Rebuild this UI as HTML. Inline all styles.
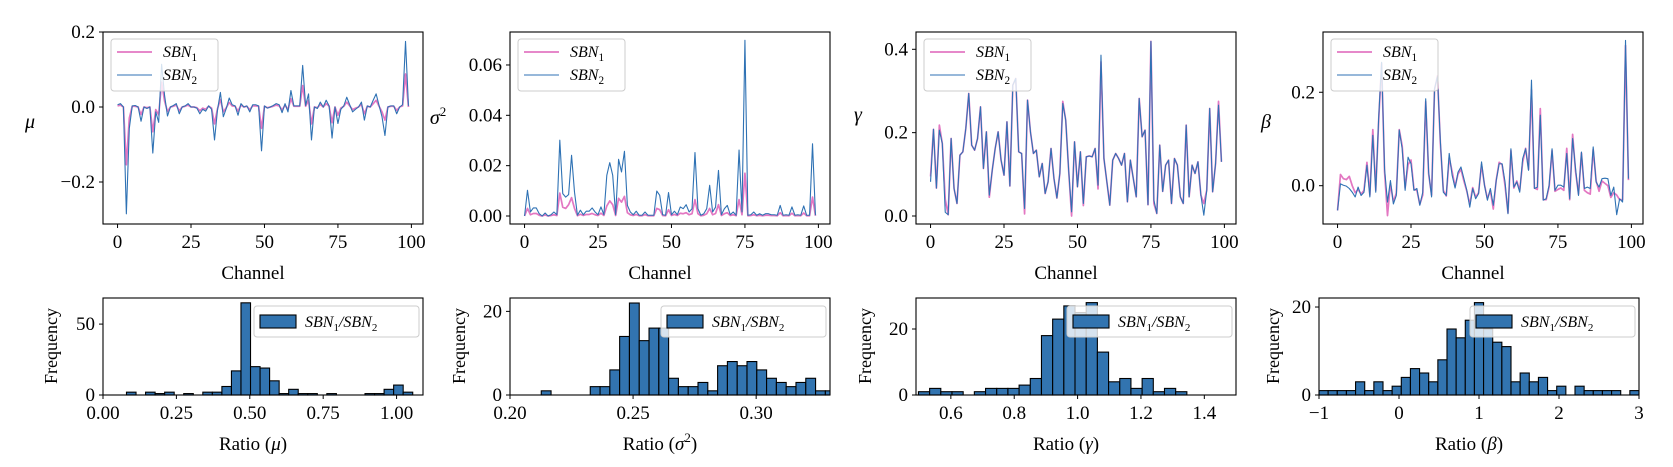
<!DOCTYPE html>
<html><head><meta charset="utf-8"><style>
html,body{margin:0;padding:0;background:#fff;}
svg{display:block;font-family:"Liberation Serif",serif;}
</style></head><body>
<svg id="fig" width="1673" height="467" viewBox="0 0 1673 467" xmlns="http://www.w3.org/2000/svg"></svg>
<script>
const channels = Array.from({length:100},(_,i)=>i);
const muSBN1 = [.003,.005,0,-.154,-.03,.002,.002,0,-.02,0,-.002,0,-.066,-.007,-.021,.066,.016,-.012,0,.002,.005,-.01,0,.002,.005,0,0,-.002,-.01,-.003,-.006,.002,-.003,-.045,-.005,.02,-.013,-.002,.012,.003,.002,-.011,.005,0,.002,-.007,.003,.003,.002,-.057,.002,-.002,0,.002,.005,.003,-.008,.005,-.007,.022,.002,.002,.002,.057,.002,.018,-.045,0,-.002,.007,0,.009,.002,-.042,0,-.022,-.003,.002,.013,.003,-.007,-.003,0,.007,-.018,.002,0,.009,.018,.002,-.013,-.035,0,.002,.002,-.009,0,.003,.088,0];
const muSBN2 = [.006,.009,0,-.285,-.057,.003,.004,0,-.038,0,-.004,0,-.123,-.013,-.041,.114,.031,-.024,0,.004,.009,-.018,0,.003,.009,0,0,-.003,-.018,-.006,-.011,.003,-.006,-.088,-.009,.039,-.026,-.004,.024,.006,.003,-.022,.009,0,.003,-.013,.006,.006,.003,-.117,.003,-.003,0,.004,.009,.006,-.015,.009,-.013,.044,.003,.003,.003,.111,.004,.035,-.088,0,-.004,.013,0,.018,.003,-.083,0,-.044,-.006,.003,.026,.006,-.013,-.006,0,.013,-.035,.003,0,.018,.035,.004,-.026,-.076,0,.003,.003,-.018,0,.006,.175,.003];
const varSBN1 = [0,.0030,.0005,.0010,.0010,.0003,0,.0004,0,.0002,.0005,.0002,.0091,.0035,.0030,.0045,.0073,.0030,.0001,.0007,.0002,.0006,.0006,.0010,.0005,.0002,.0011,.0002,.0040,.0060,.0045,.0002,.0070,.0055,.0078,.0013,.0005,.0002,.0006,.0001,.0001,.0005,.0001,.0001,.0001,.0030,.0025,.0002,.0001,.0025,.0002,.0006,.0002,.0011,.0009,.0013,.0005,.0009,.0065,.0009,.0001,.0003,.0009,.0030,.0005,.0010,.0045,.0002,.0009,.0013,.0002,.0005,.0001,.0065,.0005,.0170,.0001,.0002,.0005,.0001,.0003,.0001,.0003,.0003,.0002,.0002,.0001,.0013,.0001,.0002,.0001,.0011,.0001,.0002,.0001,.0012,.0001,.0001,.0075,.0001];
const varSBN2 = [0,.0102,.0016,.0032,.0032,.0009,0,.0012,0,.0005,.0016,.0005,.0301,.0089,.0075,.0085,.0241,.0095,.0003,.0023,.0005,.0019,.0019,.0032,.0016,.0005,.0036,.0005,.0162,.0212,.0162,.0005,.0225,.0175,.0257,.0042,.0016,.0005,.0019,.0003,.0003,.0016,.0003,.0003,.0003,.0099,.0082,.0005,.0003,.0093,.0005,.0019,.0005,.0036,.0029,.0045,.0016,.0029,.0252,.0029,.0003,.0009,.0029,.0122,.0016,.0035,.0181,.0005,.0029,.0042,.0005,.0016,.0003,.0262,.0016,.0698,.0003,.0005,.0016,.0003,.0009,.0003,.0009,.0009,.0005,.0005,.0003,.0042,.0003,.0005,.0003,.0036,.0003,.0005,.0003,.0040,.0003,.0003,.0287,.0003];
const gammaSBN1 = [.095,.208,.067,.218,.174,.040,.003,.186,.066,.030,.146,.154,.210,.294,.170,.158,.186,.262,.114,.202,.045,.110,.162,.202,.134,.098,.226,.072,.314,.330,.154,.150,.005,.278,.202,.150,.158,.094,.126,.054,.082,.162,.090,.043,.102,.275,.230,.110,.000,.178,.070,.154,.025,.142,.144,.142,.162,.065,.370,.138,.082,.026,.134,.150,.138,.122,.150,.034,.134,.090,.046,.282,.190,.206,.027,.419,.030,.006,.170,.059,.122,.134,.030,.138,.122,.046,.030,.218,.046,.122,.102,.130,.050,.030,.062,.258,.058,.126,.275,.130];
const gammaSBN2 = [.082,.208,.067,.206,.174,.009,.003,.186,.066,.030,.146,.154,.210,.294,.170,.158,.186,.262,.114,.202,.050,.110,.162,.202,.134,.098,.226,.072,.314,.330,.154,.150,.018,.278,.202,.150,.158,.094,.126,.054,.082,.162,.090,.043,.102,.270,.230,.110,.010,.178,.070,.154,.030,.142,.144,.142,.162,.074,.386,.138,.082,.026,.134,.150,.138,.122,.150,.034,.134,.090,.046,.282,.190,.206,.027,.419,.038,.006,.170,.059,.122,.134,.030,.138,.122,.046,.030,.218,.046,.122,.102,.130,.050,.002,.062,.258,.058,.126,.266,.130];
const betaSBN1 = [-.053,.024,.015,.013,.020,.000,-.015,-.008,-.018,-.010,.050,-.020,.120,-.010,.140,.262,.030,-.064,.005,-.035,-.016,.120,.085,-.005,.045,.055,-.008,-.010,-.040,-.020,.180,.025,-.020,.205,.235,.090,-.010,-.022,.060,.030,-.002,.025,.035,.010,-.012,-.040,-.004,-.025,-.015,.045,.002,-.028,-.010,-.050,.012,.050,.045,.000,-.058,.075,-.005,.010,-.010,.050,.080,.035,.205,-.005,-.008,.165,-.030,-.030,-.002,.075,-.012,-.008,-.005,-.010,.080,-.030,.110,.030,-.018,.070,-.010,-.015,-.018,.078,.010,-.012,.010,.005,.000,-.025,-.015,-.020,-.030,-.030,.300,.012];
const betaSBN2 = [-.053,.004,.001,-.001,-.006,-.014,-.024,-.003,-.021,-.014,.044,-.024,.108,-.014,.146,.264,.036,-.035,.011,-.039,-.021,.119,.079,-.010,.061,.047,-.010,-.006,-.042,-.014,.186,.029,-.024,.208,.233,.094,-.014,-.021,.069,.022,-.005,.029,.040,.015,-.010,-.046,-.006,-.028,-.017,.051,.001,-.031,-.006,-.042,.011,.047,.047,.008,-.060,.079,-.003,.008,-.014,.058,.079,.033,.226,-.006,-.003,.151,-.031,-.028,.001,.079,-.010,.001,.001,-.003,.069,-.028,.101,.036,-.021,.072,-.006,-.003,-.006,.083,.008,-.003,.015,.016,.015,-.021,-.003,-.062,-.028,-.035,.311,.015];
const channelTicks = [0,25,50,75,100];
const muTicks = [-0.2,0,0.2];  const muTickLabels = ["\u22120.2","0.0","0.2"];
const varTicks = [0,0.02,0.04,0.06]; const varTickLabels = ["0.00","0.02","0.04","0.06"];
const gammaTicks = [0,0.2,0.4]; const gammaTickLabels = ["0.0","0.2","0.4"];
const betaTicks = [0,0.2]; const betaTickLabels = ["0.0","0.2"];
const muHistStart = 0.08, muHistWidth = 0.0325;
const muHistCounts = [2,0,2,1,2,0,1,0,2,2,6,17,65,20,19,10,1,4,1,1,0,1,0,0,0,1,1,4,7,2];
const varHistStart = 0.2127, varHistWidth = 0.00398;
const varHistCounts = [1,0,0,0,0,2,2,6,14,22,13,16,16,4,2,2,3,1,7,8,7,8,6,4,3,2,3,4,1,1];
const gammaHistStart = 0.4977, gammaHistWidth = 0.0353;
const gammaHistCounts = [1,2,1,1,0,1,2,2,2,3,5,18,23,27,25,28,13,4,5,2,5,1,2,1];
const betaHistStart = -1, betaHistWidth = 4/35;
const betaHistCounts = [1,1,1,1,3,1,3,1,2,4,6,5,3,8,15,13,17,21,15,12,11,3,5,3,4,1,2,0,2,1,1,1,1,0,1];
const muRatioTicks = [0,0.25,0.5,0.75,1.0]; const muRatioLabels = ["0.00","0.25","0.50","0.75","1.00"];
const varRatioTicks = [0.2,0.25,0.3]; const varRatioLabels = ["0.20","0.25","0.30"];
const gammaRatioTicks = [0.6,0.8,1.0,1.2,1.4]; const gammaRatioLabels = ["0.6","0.8","1.0","1.2","1.4"];
const betaRatioTicks = [-1,0,1,2,3]; const betaRatioLabels = ["\u22121","0","1","2","3"];

const NS = "http://www.w3.org/2000/svg";
const svg = document.getElementById('fig');
function mk(tag, attrs, parent){ const e=document.createElementNS(NS,tag); for(const k in attrs) e.setAttribute(k,attrs[k]); (parent||svg).appendChild(e); return e; }
const PINK="#e377c2", BLUE="#2f72b4", BAR="#3274b0";
const colX=[103,510,916,1323], W=320;
const TF=19;

function scales(x0,y0,h,xl,yl){
  return {sx:v=>x0+(v-xl[0])/(xl[1]-xl[0])*W, sy:v=>y0+h-(v-yl[0])/(yl[1]-yl[0])*h};
}
function axesFrame(g,x0,y0,h,name){
  const r=mk('rect',{x:x0,y:y0,width:W,height:h,fill:'none',stroke:'#000','stroke-width':1.1},g);
  
  
}
function xTicks(g,s,y0,h,ticks,labels,name){
  ticks.forEach((t,i)=>{
    const x=s.sx(t);
    const l=mk('line',{x1:x,x2:x,y1:y0+h,y2:y0+h+4,stroke:'#000','stroke-width':1},g);
    
    
    const tx=mk('text',{x:x,y:y0+h+24,'font-size':TF,'text-anchor':'middle'},g);
    tx.textContent=labels[i];
    
    
  });
}
function yTicks(g,s,x0,ticks,labels,name){
  ticks.forEach((t,i)=>{
    const y=s.sy(t);
    const l=mk('line',{x1:x0-4,x2:x0,y1:y,y2:y,stroke:'#000','stroke-width':1},g);
    
    
    const tx=mk('text',{x:x0-8,y:y+6,'font-size':TF,'text-anchor':'end'},g);
    tx.textContent=labels[i];
    
    
  });
}
function sbnText(parent,x,y,size,idx){
  const t=mk('text',{x:x,y:y,'font-size':size,'font-style':'italic'},parent);
  t.appendChild(document.createTextNode('SBN'));
  const s=mk('tspan',{'font-size':size*0.7,'font-style':'normal',dy:4},t); s.textContent=idx;
  return t;
}

const lineCfg=[
  {name:'mu',s1:muSBN1,s2:muSBN2,yl:[-0.312,0.2],ticks:muTicks,labels:muTickLabels,lab:'\u03bc',lx:30,ly:128},
  {name:'variance',s1:varSBN1,s2:varSBN2,yl:[-0.00318,0.0731],ticks:varTicks,labels:varTickLabels,lab:'\u03c3',sup:'2',lx:438,ly:124},
  {name:'gamma',s1:gammaSBN1,s2:gammaSBN2,yl:[-0.0192,0.4415],ticks:gammaTicks,labels:gammaTickLabels,lab:'\u03b3',lx:858,ly:121},
  {name:'beta',s1:betaSBN1,s2:betaSBN2,yl:[-0.082,0.329],ticks:betaTicks,labels:betaTickLabels,lab:'\u03b2',lx:1266,ly:128},
];
lineCfg.forEach((c,k)=>{
  const x0=colX[k], y0=32, h=192;
  const g=mk('g',{});
  
  
  const s=scales(x0,y0,h,[-4.95,103.95],c.yl);
  const clip=mk('clipPath',{id:'clipt'+k},g); mk('rect',{x:x0,y:y0,width:W,height:h},clip);
  [[c.s1,PINK,1.7,'sbn1'],[c.s2,BLUE,1.1,'sbn2']].forEach(([arr,col,wd,nm])=>{
    const d=arr.map((v,i)=>(i?'L':'M')+s.sx(channels[i]).toFixed(2)+','+s.sy(v).toFixed(2)).join('');
    const p=mk('path',{d:d,fill:'none',stroke:col,'stroke-width':wd,'stroke-linejoin':'round','clip-path':'url(#clipt'+k+')'},g);
    
    
  });
  axesFrame(g,x0,y0,h,c.name);
  xTicks(g,s,y0,h,channelTicks,channelTicks.map(String),c.name);
  yTicks(g,s,x0,c.ticks,c.labels,c.name);
  const xl=mk('text',{x:x0+W/2-10,y:279,'font-size':19,'text-anchor':'middle'},g); xl.textContent='Channel';
  
  
  const yl=mk('text',{x:c.lx,y:c.ly,'font-size':20,'font-style':'italic','text-anchor':'middle'},g); yl.textContent=c.lab;
  if(c.sup){const sp=mk('tspan',{'font-size':13,'font-style':'normal',dy:-8},yl); sp.textContent=c.sup;}
  
  
  const lg=mk('g',{},g);
  
  
  mk('rect',{x:x0+8,y:y0+7,width:107,height:52,rx:3,fill:'#fff','fill-opacity':0.8,stroke:'#cccccc','stroke-width':1},lg);
  const e1=mk('line',{x1:x0+14,x2:x0+49,y1:y0+20,y2:y0+20,stroke:PINK,'stroke-width':1.7},lg);
  
  
  sbnText(lg,x0+60,y0+25,16,'1');
  const e2=mk('line',{x1:x0+14,x2:x0+49,y1:y0+43,y2:y0+43,stroke:BLUE,'stroke-width':1.1},lg);
  
  
  sbnText(lg,x0+60,y0+48,16,'2');
});

const histCfg=[
  {name:'mu-ratio',start:muHistStart,w:muHistWidth,counts:muHistCounts,xl:[0,1.09],yl:[0,68.4],xt:muRatioTicks,xtl:muRatioLabels,yt:[0,50],lab:'\u03bc',fx:51},
  {name:'variance-ratio',start:varHistStart,w:varHistWidth,counts:varHistCounts,xl:[0.2,0.33],yl:[0,23.2],xt:varRatioTicks,xtl:varRatioLabels,yt:[0,20],lab:'\u03c3',sup:'2',fx:459},
  {name:'gamma-ratio',start:gammaHistStart,w:gammaHistWidth,counts:gammaHistCounts,xl:[0.49,1.5],yl:[0,29.4],xt:gammaRatioTicks,xtl:gammaRatioLabels,yt:[0,20],lab:'\u03b3',fx:865},
  {name:'beta-ratio',start:betaHistStart,w:betaHistWidth,counts:betaHistCounts,xl:[-1,3],yl:[0,22.05],xt:betaRatioTicks,xtl:betaRatioLabels,yt:[0,20],lab:'\u03b2',fx:1273},
];
histCfg.forEach((c,k)=>{
  const x0=colX[k]-(k===3?4:0), y0=298, h=97;
  const g=mk('g',{});
  
  
  const s={sx:v=>x0+(v-c.xl[0])/(c.xl[1]-c.xl[0])*W, sy:v=>y0+h-(v-c.yl[0])/(c.yl[1]-c.yl[0])*h};
  const clip=mk('clipPath',{id:'cliph'+k},g); mk('rect',{x:x0,y:y0-1,width:W,height:h+2},clip);
  c.counts.forEach((n,i)=>{
    if(!n) return;
    const a=c.start+i*c.w, b=a+c.w;
    const r=mk('rect',{x:s.sx(a),y:s.sy(n),width:s.sx(b)-s.sx(a),height:s.sy(0)-s.sy(n),fill:BAR,stroke:'#000','stroke-width':1.1,'clip-path':'url(#cliph'+k+')'},g);
    
    
  });
  axesFrame(g,x0,y0,h,c.name);
  xTicks(g,s,y0,h,c.xt,c.xtl,c.name);
  yTicks(g,s,x0,c.yt,c.yt.map(String),c.name);
  const xl=mk('text',{x:x0+W/2-10,y:450,'font-size':19,'text-anchor':'middle'},g);
  xl.appendChild(document.createTextNode('Ratio ('));
  const it=mk('tspan',{'font-style':'italic'},xl); it.textContent=c.lab;
  if(c.sup){const sp=mk('tspan',{'font-size':13,dy:-8},xl); sp.textContent=c.sup; const bk=mk('tspan',{dy:8},xl); bk.textContent=')';}
  else xl.appendChild(document.createTextNode(')'));
  
  
  const fy=mk('text',{x:c.fx,y:346,'font-size':18,'text-anchor':'middle',transform:'rotate(-90 '+(c.fx)+' 346)',dy:6},g);
  fy.textContent='Frequency';
  
  
  const lg=mk('g',{},g);
  
  
  mk('rect',{x:x0+151,y:y0+8,width:165,height:31,rx:3,fill:'#fff','fill-opacity':0.8,stroke:'#cccccc','stroke-width':1},lg);
  const pt=mk('rect',{x:x0+157,y:y0+17,width:36,height:13,fill:BAR,stroke:'#000','stroke-width':1.1},lg);
  
  
  const t=mk('text',{x:x0+202,y:y0+29,'font-size':16,'font-style':'italic'},lg);
  t.appendChild(document.createTextNode('SBN'));
  const s1=mk('tspan',{'font-size':11,'font-style':'normal',dy:4},t); s1.textContent='1';
  const sl=mk('tspan',{dy:-4},t); sl.textContent='/SBN';
  const s2=mk('tspan',{'font-size':11,'font-style':'normal',dy:4},t); s2.textContent='2';
});
</script>
</body></html>
